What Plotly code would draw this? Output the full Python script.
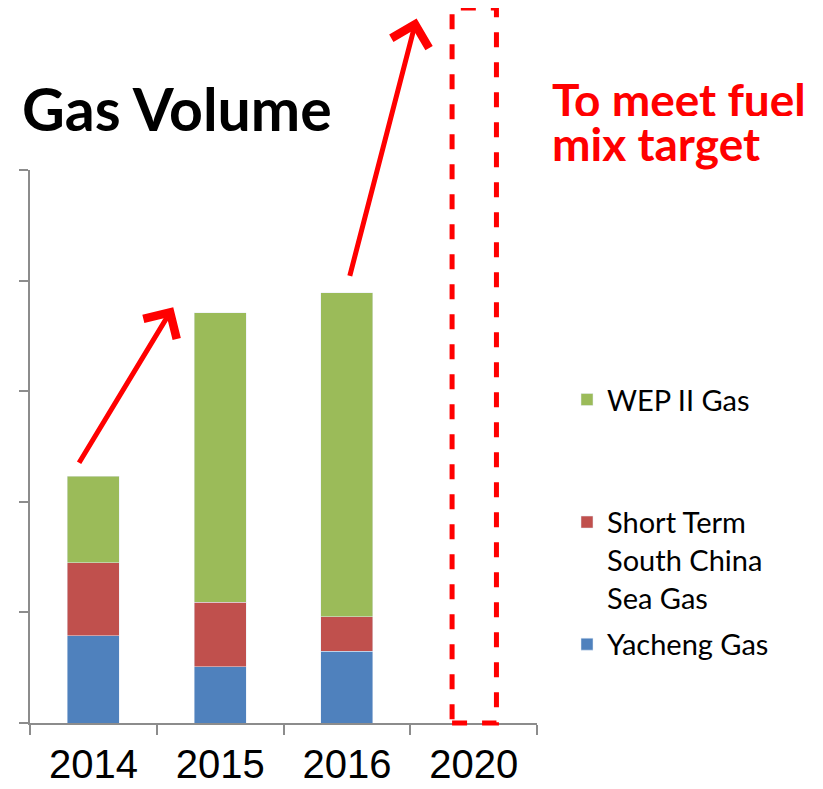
import plotly.graph_objects as go

years = ['2014', '2015', '2016', '2020']
yacheng = [0.79, 0.51, 0.65, None]
short_term = [0.66, 0.58, 0.31, None]
wep_ii = [0.78, 2.62, 2.93, None]

BLUE = '#4F81BD'
RED = '#C0504D'
GREEN = '#9BBB59'
AXIS = '#8C8C8C'
FONT = 'Lato'

fig = go.Figure()
fig.add_bar(x=years, y=yacheng, name='Yacheng Gas', marker_color=BLUE,
            legend='legend', legendgroup='a', legendrank=2)
fig.add_bar(x=years, y=short_term, name='Short Term<br>South China<br>Sea Gas',
            marker_color=RED, legend='legend', legendgroup='b', legendrank=1)
fig.add_bar(x=years, y=wep_ii, name='WEP II Gas', marker_color=GREEN,
            legend='legend2', legendgroup='c')

# Red arrows showing the growth trend
fig.add_annotation(x=0.63, y=3.76, ax=-0.12, ay=2.34, xref='x', yref='y',
                   axref='x', ayref='y', text='', showarrow=True,
                   arrowhead=4, arrowsize=1.5, arrowwidth=5, arrowcolor='#FF0000')
fig.add_annotation(x=2.55, y=6.37, ax=2.02, ay=4.03, xref='x', yref='y',
                   axref='x', ayref='y', text='', showarrow=True,
                   arrowhead=4, arrowsize=1.5, arrowwidth=5, arrowcolor='#FF0000')

# Dashed box for 2020
fig.add_shape(type='rect', xref='x', yref='paper', x0=2.83, x1=3.18, y0=0, y1=1.293,
              line=dict(color='#FF0000', width=5, dash='dash'))

# Red note, two lines set close together like the original
fig.add_annotation(xref='paper', yref='paper', x=(550 - 30) / 507,
                   y=(723 - 70) / 553, xanchor='left', yanchor='top',
                   height=44, valign='top', showarrow=False,
                   text='<b>To meet fuel</b>',
                   font=dict(family=FONT, size=46, color='#FF0000'))
fig.add_annotation(xref='paper', yref='paper', x=(550 - 30) / 507,
                   y=(723 - 114) / 553, xanchor='left', yanchor='top',
                   showarrow=False, text='<b>mix target</b>',
                   font=dict(family=FONT, size=46, color='#FF0000'))

fig.update_layout(
    width=823, height=789,
    margin=dict(l=22, r=294, t=162, b=74),
    paper_bgcolor='white', plot_bgcolor='white',
    barmode='stack', bargap=0.59,
    title=dict(text='<b>Gas Volume</b>', xref='container', yref='container',
               x=14 / 823, xanchor='left', y=1 - 102 / 789, yanchor='middle',
               font=dict(family=FONT, size=59, color='black')),
    legend=dict(x=(559 - 22) / 507, y=(723 - 505) / 553 + 0.015, xanchor='left',
                yanchor='top', valign='top', tracegroupgap=6,
                traceorder='grouped',
                font=dict(family=FONT, size=29, color='black'),
                bgcolor='rgba(0,0,0,0)'),
    legend2=dict(x=(559 - 22) / 507, y=(723 - 383) / 553 + 0.016, xanchor='left',
                 yanchor='top', valign='top',
                 font=dict(family=FONT, size=29, color='black'),
                 bgcolor='rgba(0,0,0,0)'),
)
fig.update_xaxes(showline=True, linecolor=AXIS, linewidth=2, ticks='outside',
                 tickson='boundaries', ticklen=10, tickcolor=AXIS, tickwidth=2,
                 ticklabelstandoff=5, automargin=False,
                 showgrid=False, categoryorder='array', categoryarray=years,
                 tickfont=dict(family='Liberation Sans', size=40, color='black'))
fig.update_yaxes(range=[0, 5], dtick=1, showline=True, linecolor=AXIS, linewidth=2,
                 ticks='outside', ticklen=9, tickcolor=AXIS, tickwidth=2,
                 showticklabels=False, showgrid=False, zeroline=False,
                 automargin=False)

fig.write_html('out.html')
